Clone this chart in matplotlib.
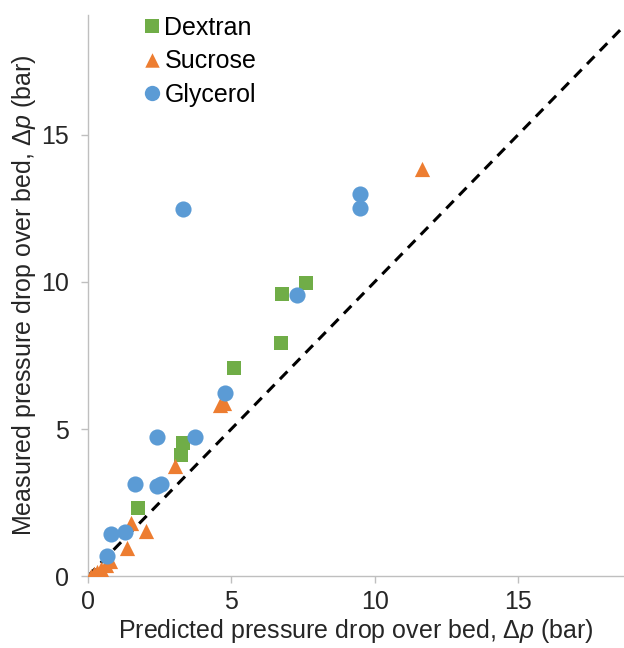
import numpy as np
import matplotlib
matplotlib.use("Agg")
import matplotlib.pyplot as plt

plt.rcParams['font.family'] = ['Liberation Sans', 'DejaVu Sans']
plt.rcParams['mathtext.fontset'] = 'custom'
plt.rcParams['mathtext.rm'] = 'Liberation Sans'
plt.rcParams['mathtext.it'] = 'Liberation Sans:italic'

# predicted vs measured pressure drop (bar)
dextran_x = [1.75, 3.25, 3.30, 5.10, 6.75, 6.78, 7.62]
dextran_y = [2.33, 4.12, 4.52, 7.07, 7.94, 9.58, 9.95]

sucrose_x = [0.12, 0.20, 0.30, 0.45, 0.62, 0.78, 1.36, 1.50, 2.03, 3.03, 4.62, 4.74, 11.64]
sucrose_y = [0.00, 0.08, 0.15, 0.25, 0.37, 0.50, 0.94, 1.80, 1.52, 3.74, 5.80, 5.90, 13.85]

glycerol_x = [0.66, 0.82, 1.28, 1.63, 2.40, 2.56, 2.42, 3.73, 4.78, 3.32, 7.30, 9.48, 9.48]
glycerol_y = [0.68, 1.42, 1.49, 3.12, 3.06, 3.13, 4.74, 4.74, 6.21, 12.47, 9.55, 12.99, 12.53]

ticks = [0, 5, 10, 15]

fig = plt.figure(figsize=(6.24, 6.48), dpi=100)
ax = fig.add_axes([0.141, 0.111, 0.859, 0.866])

# parity line
line = np.array([0, 20])
ax.plot(line, line, color='black', ls=(0, (3.5, 2.5)), lw=2.2, zorder=1)

ax.scatter(dextran_x, dextran_y, marker='s', s=105, color='#70ad47', label='Dextran', zorder=2, lw=0)
ax.scatter(sucrose_x, sucrose_y, marker='^', s=120, color='#ed7d31', label='Sucrose', zorder=3, lw=0)
ax.scatter(glycerol_x, glycerol_y, marker='o', s=135, color='#5b9bd5', label='Glycerol', zorder=4, lw=0)

ax.set_xlim(0, 18.7)
ax.set_ylim(0, 19.08)
ax.set_xticks(ticks)
ax.set_yticks(ticks)

for s in ['top', 'right']:
    ax.spines[s].set_visible(False)
for s in ['left', 'bottom']:
    ax.spines[s].set_color('#bfbfbf')
    ax.spines[s].set_linewidth(1.0)
ax.tick_params(colors='#bfbfbf', labelcolor='#262626', labelsize=18, length=5, width=1, pad=5)
ax.tick_params(axis='y', pad=9)

ax.set_xlabel(r'Predicted pressure drop over bed, $\mathit{\Delta p}$ (bar)', fontsize=18, color='#262626', labelpad=2)
ax.set_ylabel(r'Measured pressure drop over bed, $\mathit{\Delta p}$ (bar)', fontsize=18, color='#262626', labelpad=2)

ax.legend(loc='upper left', bbox_to_anchor=(0.082, 1.016), frameon=False, fontsize=18,
          handlelength=0.8, handletextpad=0.1, labelspacing=0.38, borderaxespad=0,
          scatteryoffsets=[0.5], markerscale=0.95)

fig.savefig('out.png', dpi=100)
